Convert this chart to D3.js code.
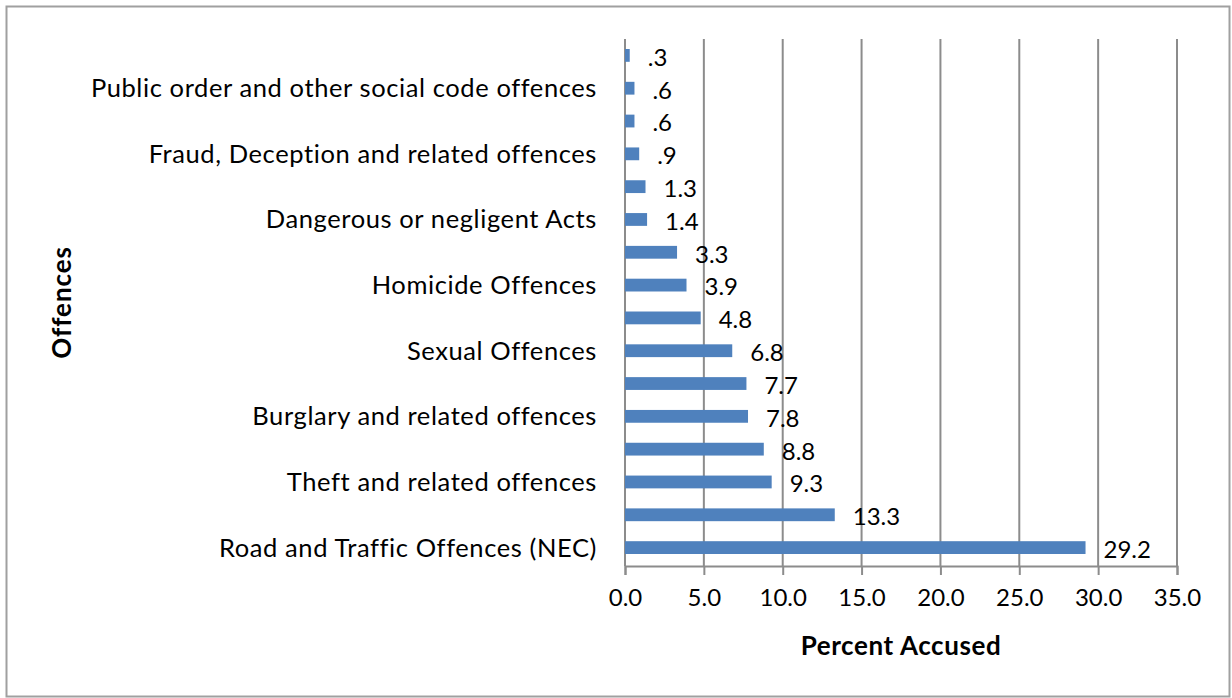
<!DOCTYPE html>
<html>
<head>
<meta charset="utf-8">
<script src="https://cdnjs.cloudflare.com/ajax/libs/d3/7.8.5/d3.min.js"></script>
<style>
  body { margin: 0; background: #fff; }
  svg text { font-family: Lato, "Open Sans", sans-serif; fill: #000; }
</style>
</head>
<body>
<div id="viz_div"></div>
<script>
// Bars listed top to bottom, as drawn. Only every second category is labelled
// on the axis (as in the original), so the others are blank.
var categories = [
  "",
  "Public order and other social code offences",
  "",
  "Fraud, Deception and related offences",
  "",
  "Dangerous or negligent Acts",
  "",
  "Homicide Offences",
  "",
  "Sexual Offences",
  "",
  "Burglary and related offences",
  "",
  "Theft and related offences",
  "",
  "Road and Traffic Offences (NEC)"
];
var percents = [0.3, 0.6, 0.6, 0.9, 1.3, 1.4, 3.3, 3.9, 4.8, 6.8, 7.7, 7.8, 8.8, 9.3, 13.3, 29.2];
var x_ticks = [0, 5, 10, 15, 20, 25, 30, 35];

var w = 1232, h = 698;
var plot = { left: 625, right: 1177, top: 39, bottom: 566 };
var num_px = 24;     // numbers
var cat_px = 25.5;   // category labels
var title_px = 26;   // axis titles

var svg = d3.select("#viz_div")
            .append("svg")
            .attr("width", w)
            .attr("height", h);

// outer chart border
svg.append("rect")
   .attr("x", 6.5).attr("y", 6.5)
   .attr("width", w - 9).attr("height", h - 8)
   .attr("fill", "none")
   .attr("stroke", "#a0a0a0")
   .attr("stroke-width", 2);

var x = d3.scaleLinear()
          .domain([0, 35])
          .range([plot.left, plot.right]);

var y = d3.scaleBand()
          .domain(d3.range(percents.length))
          .range([plot.top, plot.bottom - 2])
          .paddingInner(0.61)
          .paddingOuter(0.305);

// vertical gridlines
svg.selectAll("line.grid")
   .data(x_ticks.slice(1))
   .enter()
   .append("line")
   .attr("class", "grid")
   .attr("x1", function(d) { return x(d); })
   .attr("x2", function(d) { return x(d); })
   .attr("y1", plot.top)
   .attr("y2", plot.bottom)
   .attr("stroke", "#8c8c8c")
   .attr("stroke-width", 2);

// x axis
var x_axis = d3.axisBottom(x)
               .tickValues(x_ticks)
               .tickFormat(d3.format(".1f"))
               .tickSize(9)
               .tickPadding(14);

var gx = svg.append("g")
            .attr("transform", "translate(0," + plot.bottom + ")")
            .call(x_axis);
gx.select(".domain").attr("stroke", "#8c8c8c").attr("stroke-width", 2);
gx.selectAll(".tick line").attr("stroke", "#8c8c8c").attr("stroke-width", 2);
gx.selectAll(".tick text")
  .attr("font-size", num_px)
  .attr("font-family", "Lato, sans-serif")
  .attr("fill", "#000");

// y axis line
svg.append("line")
   .attr("x1", plot.left).attr("x2", plot.left)
   .attr("y1", plot.top).attr("y2", plot.bottom)
   .attr("stroke", "#8c8c8c")
   .attr("stroke-width", 2);

// category labels
svg.selectAll("text.cat")
   .data(categories)
   .enter()
   .append("text")
   .attr("class", "cat")
   .attr("x", plot.left - 28)
   .attr("y", function(d, i) { return y(i) + y.bandwidth() / 2; })
   .attr("dy", "0.35em")
   .attr("text-anchor", "end")
   .attr("font-size", cat_px)
   .attr("letter-spacing", 0.6)
   .text(function(d) { return d; });

// bars
svg.selectAll("rect.bar")
   .data(percents)
   .enter()
   .append("rect")
   .attr("class", "bar")
   .attr("x", x(0))
   .attr("y", function(d, i) { return y(i); })
   .attr("width", function(d) { return x(d) - x(0); })
   .attr("height", y.bandwidth())
   .attr("fill", "#4f81bd");

// value labels, Excel style without the leading zero
var fmt = d3.format(".1f");
svg.selectAll("text.val")
   .data(percents)
   .enter()
   .append("text")
   .attr("class", "val")
   .attr("x", function(d) { return x(d) + 18; })
   .attr("y", function(d, i) { return y(i) + y.bandwidth() / 2 + 2; })
   .attr("dy", "0.35em")
   .attr("font-size", num_px)
   .text(function(d) { return fmt(d).replace(/^0\./, "."); });

// axis titles
svg.append("text")
   .attr("x", (plot.left + plot.right) / 2)
   .attr("y", 646)
   .attr("dy", "0.35em")
   .attr("text-anchor", "middle")
   .attr("font-size", title_px)
   .attr("font-weight", "bold")
   .attr("letter-spacing", 0.6)
   .text("Percent Accused");

svg.append("text")
   .attr("transform", "translate(62," + (plot.top + plot.bottom) / 2 + ") rotate(-90)")
   .attr("dy", "0.35em")
   .attr("text-anchor", "middle")
   .attr("font-size", title_px)
   .attr("font-weight", "bold")
   .attr("letter-spacing", 0.9)
   .text("Offences");
</script>
</body>
</html>
